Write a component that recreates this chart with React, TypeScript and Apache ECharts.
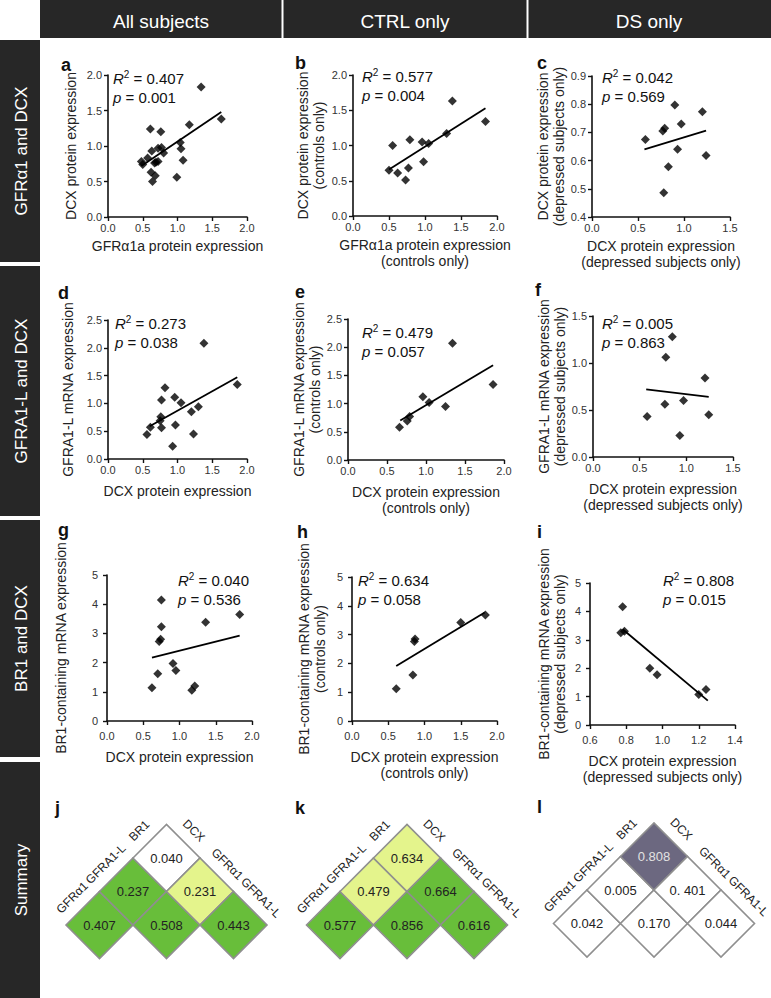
import React, { useEffect, useRef } from "react";
import * as echarts from "echarts";

const FONT = '"Liberation Sans", Arial, Helvetica, sans-serif';

// ---------- column / row headings ----------
const COLUMN_HEADS = ["All subjects", "CTRL only", "DS only"];
const ROW_HEADS = ["GFRα1 and DCX", "GFRA1-L and DCX", "BR1 and DCX", "Summary"];

// ---------- scatter data ----------
const A_PTS = [[1.34,1.83],[0.61,1.24],[0.76,1.20],[1.17,1.30],[1.63,1.38],[0.63,0.93],[0.72,0.97],[0.77,0.98],[0.80,0.90],[1.04,1.05],[1.05,0.96],[1.08,0.80],[0.57,0.83],[0.48,0.78],[0.50,0.74],[0.69,0.77],[0.72,0.78],[0.67,0.76],[0.62,0.63],[0.68,0.58],[0.64,0.50],[0.99,0.56]];
const A_FIT = [[0.48,0.72],[1.63,1.48]];
const B_PTS = [[0.50,0.65],[0.55,1.00],[0.62,0.61],[0.73,0.51],[0.77,0.68],[0.79,1.08],[0.96,1.05],[0.98,0.77],[1.05,1.03],[1.30,1.17],[1.38,1.63],[1.84,1.34]];
const B_FIT = [[0.50,0.66],[1.84,1.53]];
const C_PTS = [[0.58,0.675],[0.77,0.705],[0.79,0.715],[0.90,0.797],[0.97,0.730],[1.20,0.773],[0.93,0.640],[0.83,0.578],[1.24,0.618],[0.78,0.486]];
const C_FIT = [[0.57,0.64],[1.24,0.706]];
const D_PTS = [[1.38,2.08],[1.86,1.34],[0.82,1.28],[0.77,1.06],[0.96,1.11],[1.05,1.01],[1.30,0.94],[1.20,0.85],[0.76,0.76],[0.75,0.69],[0.61,0.57],[0.77,0.56],[0.97,0.61],[0.56,0.44],[1.23,0.45],[0.93,0.23]];
const D_FIT = [[0.60,0.59],[1.86,1.47]];
const E_PTS = [[0.66,0.58],[0.76,0.69],[0.79,0.77],[0.96,1.12],[1.04,1.02],[1.25,0.95],[1.34,2.07],[1.86,1.34]];
const E_FIT = [[0.67,0.70],[1.86,1.68]];
const F_PTS = [[0.85,1.28],[0.78,1.06],[1.20,0.84],[0.97,0.60],[0.77,0.56],[0.58,0.43],[1.24,0.45],[0.93,0.23]];
const F_FIT = [[0.57,0.72],[1.24,0.64]];
const G_PTS = [[0.75,4.14],[0.75,3.23],[0.74,2.80],[0.72,2.72],[1.36,3.38],[1.83,3.65],[0.91,1.97],[0.95,1.73],[0.70,1.62],[0.62,1.14],[1.17,1.05],[1.21,1.20]];
const G_FIT = [[0.62,2.17],[1.83,2.92]];
const H_PTS = [[0.61,1.12],[0.84,1.60],[0.86,2.76],[0.87,2.85],[1.50,3.42],[1.84,3.68]];
const H_FIT = [[0.61,1.91],[1.83,3.77]];
const I_PTS = [[0.78,4.16],[0.77,3.25],[0.79,3.30],[0.93,2.00],[0.97,1.77],[1.20,1.07],[1.24,1.25]];
const I_FIT = [[0.78,3.37],[1.25,0.86]];

// ---------- statistics ----------
const R2 = ["0.407", "0.577", "0.042", "0.273", "0.479", "0.005", "0.040", "0.634", "0.808"];
const PV = ["0.001", "0.004", "0.569", "0.038", "0.057", "0.863", "0.536", "0.058", "0.015"];

// ---------- axis titles ----------
const X_NAMES = [
  "GFRα1a protein expression",
  "GFRα1a protein expression\n(controls only)",
  "DCX protein expression\n(depressed subjects only)",
  "DCX protein expression",
  "DCX protein expression\n(controls only)",
  "DCX protein expression\n(depressed subjects only)",
  "DCX protein expression",
  "DCX protein expression\n(controls only)",
  "DCX protein expression\n(depressed subjects only)",
];
const Y_NAMES = [
  "DCX protein expression",
  "DCX protein expression\n(controls only)",
  "DCX protein expression\n(depressed subjects only)",
  "GFRA1-L mRNA expression",
  "GFRA1-L mRNA expression\n(controls only)",
  "GFRA1-L mRNA expression\n(depressed subjects only)",
  "BR1-containing mRNA expression",
  "BR1-containing mRNA expression\n(controls only)",
  "BR1-containing mRNA expression\n(depressed subjects only)",
];
// axis ranges [min, max, interval, decimals]
const X_RANGES = [[0,2,0.5,1],[0,2,0.5,1],[0,1.5,0.5,1],[0,2,0.5,1],[0,2,0.5,1],[0,1.5,0.5,1],[0,2,0.5,1],[0,2,0.5,1],[0.6,1.4,0.2,1]];
const Y_RANGES = [[0,2,0.5,1],[0,2,0.5,1],[0.4,0.9,0.1,1],[0,2.5,0.5,1],[0,2.5,0.5,1],[0,1.5,0.5,1],[0,5,1,0],[0,5,1,0],[0,5,1,0]];
const PANEL_PTS = [A_PTS, B_PTS, C_PTS, D_PTS, E_PTS, F_PTS, G_PTS, H_PTS, I_PTS];
const PANEL_FIT = [A_FIT, B_FIT, C_FIT, D_FIT, E_FIT, F_FIT, G_FIT, H_FIT, I_FIT];
const LETTERS = ["a", "b", "c", "d", "e", "f", "g", "h", "i"];

// ---------- summary heat maps ----------
const LEFT_LABELS = ["GFRα1", "GFRA1-L", "BR1"];
const RIGHT_LABELS = ["DCX", "GFRα1", "GFRA1-L"];
// cell pairs [leftIndex, rightIndex]
const PAIRS = [[0,0],[1,0],[2,0],[1,1],[2,1],[2,2]];
const HEAT_J = ["0.407", "0.237", "0.040", "0.508", "0.231", "0.443"];
const HEAT_K = ["0.577", "0.479", "0.634", "0.856", "0.664", "0.616"];
const HEAT_L = ["0.042", "0.005", "0.808", "0.170", "0. 401", "0.044"];
// significance class: 0 n.s., 1 trend, 2 significant positive, 3 significant negative
const SIG_J = [2, 2, 0, 2, 1, 2];
const SIG_K = [2, 1, 1, 2, 2, 2];
const SIG_L = [0, 0, 3, 0, 0, 0];
const HEAT_LETTERS = ["j", "k", "l"];

// ---------- layout (pixels) ----------
const GRIDS = [
  [108, 75, 139, 142], [353, 75, 144, 141], [592, 76, 138, 141],
  [108, 320, 139, 139], [348, 319, 156, 141], [593, 316, 140, 141],
  [107, 575, 145, 146], [352, 577, 145, 144], [590, 583, 145, 142],
];
const LETTER_POS = [[61, 65], [295, 63], [537, 63], [58, 293], [295, 292], [535, 290], [58, 530], [297, 532], [537, 532]];
const STAT_POS = [[113, 78], [362, 76], [602, 77], [115, 323], [362, 332], [602, 323], [178, 580], [358, 580], [663, 580]];
const Y_GAP = [29, 26, 24, 32, 24, 22, 38, 24, 22];
const X_GAP = [21, 21, 21, 24, 24, 24, 28, 28, 28];
const X_LABEL_MARGIN = [5, 5, 5, 5, 5, 5, 9, 9, 9];
const Y_LABEL_MARGIN = [6, 6, 6, 6, 6, 6, 9, 9, 9];
const HEAT_GRIDS = [[66, 824.5], [306.5, 824.5], [553.5, 823]];
const HEAT_LETTER_POS = [[55, 808], [295, 808], [537, 807]];
const SIG_COLORS = ["#ffffff", "#e4f48c", "#68be3a", "#6c6880"];

function buildOption() {
  const grid: any[] = [];
  const xAxis: any[] = [];
  const yAxis: any[] = [];
  const series: any[] = [];
  const graphic: any[] = [];

  const axisCommon = {
    type: "value",
    splitLine: { show: false },
    axisLine: { show: true, onZero: false, lineStyle: { color: "#111", width: 1.6 } },
    axisTick: { show: true, length: 4, lineStyle: { color: "#111", width: 1.4 } },
    nameLocation: "middle",
    nameTextStyle: { fontSize: 14, color: "#222", fontFamily: FONT, lineHeight: 16 },
  };

  for (let i = 0; i < 9; i++) {
    const [l, t, w, h] = GRIDS[i];
    grid.push({ left: l, top: t, width: w, height: h, containLabel: false });
    const xr = X_RANGES[i];
    const yr = Y_RANGES[i];
    xAxis.push({
      ...axisCommon,
      gridIndex: i,
      min: xr[0], max: xr[1], interval: xr[2],
      axisLabel: { fontSize: 11, color: "#333", fontFamily: FONT, margin: X_LABEL_MARGIN[i], formatter: (v: number) => v.toFixed(xr[3]) },
      name: X_NAMES[i],
      nameGap: X_GAP[i],
    });
    yAxis.push({
      ...axisCommon,
      gridIndex: i,
      min: yr[0], max: yr[1], interval: yr[2],
      axisLabel: { fontSize: 11, color: "#333", fontFamily: FONT, margin: Y_LABEL_MARGIN[i], formatter: (v: number) => v.toFixed(yr[3]) },
      name: Y_NAMES[i],
      nameRotate: 90,
      nameGap: Y_GAP[i],
    });
    series.push({
      type: "scatter",
      xAxisIndex: i, yAxisIndex: i,
      data: PANEL_PTS[i],
      symbol: "diamond",
      symbolSize: 9,
      itemStyle: { color: "#000" },
    });
    series.push({
      type: "line",
      xAxisIndex: i, yAxisIndex: i,
      data: PANEL_FIT[i],
      symbol: "none",
      lineStyle: { color: "#000", width: 1.8 },
    });
    graphic.push({
      type: "text", x: LETTER_POS[i][0], y: LETTER_POS[i][1],
      style: { text: LETTERS[i], font: `bold 18px ${FONT}`, fill: "#111", align: "left", verticalAlign: "middle" },
    });
    const [sx, sy] = STAT_POS[i];
    graphic.push({
      type: "text", x: sx, y: sy,
      style: {
        text: `{i|R}{s|2}{n| = ${R2[i]}}`,
        rich: {
          i: { fontStyle: "italic", fontSize: 15, fontFamily: FONT, fill: "#111", lineHeight: 18 },
          s: { fontSize: 10, fontFamily: FONT, fill: "#111", verticalAlign: "top", lineHeight: 18 },
          n: { fontSize: 15, fontFamily: FONT, fill: "#111", lineHeight: 18 },
        },
        align: "left", verticalAlign: "middle",
      },
    });
    graphic.push({
      type: "text", x: sx, y: sy + 19,
      style: {
        text: `{i|p}{n| = ${PV[i]}}`,
        rich: {
          i: { fontStyle: "italic", fontSize: 15, fontFamily: FONT, fill: "#111", lineHeight: 18 },
          n: { fontSize: 15, fontFamily: FONT, fill: "#111", lineHeight: 18 },
        },
        align: "left", verticalAlign: "middle",
      },
    });
  }

  // heat maps
  const heatVals = [HEAT_J, HEAT_K, HEAT_L];
  const heatSig = [SIG_J, SIG_K, SIG_L];
  for (let k = 0; k < 3; k++) {
    const gi = 9 + k;
    const [l, t] = HEAT_GRIDS[k];
    grid.push({ left: l, top: t, width: 201, height: 134 });
    xAxis.push({ type: "value", gridIndex: gi, min: 0, max: 6, show: false });
    yAxis.push({ type: "value", gridIndex: gi, min: 0, max: 4, show: false });
    const cells = PAIRS.map(([r, c], n) => [1 + r + c, 1 + r - c, heatVals[k][n], heatSig[k][n]]);
    series.push({
      type: "custom",
      coordinateSystem: "cartesian2d",
      xAxisIndex: gi, yAxisIndex: gi,
      data: cells,
      renderItem: (params: any, api: any) => {
        const cx = api.value(0), cy = api.value(1);
        const p = api.coord([cx, cy]);
        const s = api.size([1, 1]);
        const hx = s[0], hy = s[1];
        const sig = cells[params.dataIndex][3] as number;
        const txt = cells[params.dataIndex][2] as string;
        return {
          type: "group",
          children: [
            {
              type: "polygon",
              shape: { points: [[p[0] - hx, p[1]], [p[0], p[1] - hy], [p[0] + hx, p[1]], [p[0], p[1] + hy]] },
              style: { fill: SIG_COLORS[sig], stroke: "#8f8f8f", lineWidth: 1.6 },
            },
            {
              type: "text", x: p[0], y: p[1],
              style: { text: txt, fill: sig === 3 ? "#e2e2e2" : "#222", font: `13px ${FONT}`, align: "center", verticalAlign: "middle" },
            },
          ],
        };
      },
    });
    const labels: any[] = [];
    LEFT_LABELS.forEach((t2, r) => labels.push([0.5 + r, 1.5 + r, t2, 0]));
    RIGHT_LABELS.forEach((t2, c) => labels.push([3.5 + c, 3.5 - c, t2, 1]));
    series.push({
      type: "custom",
      coordinateSystem: "cartesian2d",
      xAxisIndex: gi, yAxisIndex: gi,
      data: labels,
      renderItem: (params: any, api: any) => {
        const item = labels[params.dataIndex];
        const p = api.coord([item[0], item[1]]);
        const d = 15 / Math.SQRT2;
        const right = item[3] === 1;
        return {
          type: "text",
          x: p[0] + (right ? d : -d),
          y: p[1] - d,
          rotation: right ? -Math.PI / 4 : Math.PI / 4,
          style: { text: item[2], fill: "#222", font: `12px ${FONT}`, align: "center", verticalAlign: "middle" },
        };
      },
    });
    graphic.push({
      type: "text", x: HEAT_LETTER_POS[k][0], y: HEAT_LETTER_POS[k][1],
      style: { text: HEAT_LETTERS[k], font: `bold 18px ${FONT}`, fill: "#111", align: "left", verticalAlign: "middle" },
    });
  }

  // header band
  graphic.push({ type: "rect", shape: { x: 40, y: 0, width: 731, height: 38 }, style: { fill: "#272727" }, z: -1 });
  graphic.push({ type: "line", shape: { x1: 282.5, y1: 0, x2: 282.5, y2: 38 }, style: { stroke: "#fff", lineWidth: 2 } });
  graphic.push({ type: "line", shape: { x1: 527.5, y1: 0, x2: 527.5, y2: 38 }, style: { stroke: "#fff", lineWidth: 2 } });
  const headCenters = [161, 405, 649];
  COLUMN_HEADS.forEach((t, n) => {
    graphic.push({
      type: "text", x: headCenters[n], y: 21,
      style: { text: t, fill: "#fff", font: `19px ${FONT}`, align: "center", verticalAlign: "middle" },
    });
  });
  // side band
  const sections = [[40, 262], [266, 516], [520, 757], [762, 998]];
  sections.forEach(([y0, y1], n) => {
    graphic.push({ type: "rect", shape: { x: 0, y: y0, width: 40, height: y1 - y0 }, style: { fill: "#272727" }, z: -1 });
    graphic.push({
      type: "text", x: 21, y: (y0 + y1) / 2, rotation: Math.PI / 2,
      style: { text: ROW_HEADS[n], fill: "#fff", font: `17px ${FONT}`, align: "center", verticalAlign: "middle" },
    });
  });

  return {
    animation: false,
    backgroundColor: "#fff",
    textStyle: { fontFamily: FONT },
    grid, xAxis, yAxis, series, graphic,
  };
}

export default function App() {
  const ref = useRef<HTMLDivElement>(null);
  useEffect(() => {
    document.body.style.margin = "0";
    const chart = echarts.init(ref.current!, null, { renderer: "svg" });
    chart.setOption(buildOption() as any);
    return () => chart.dispose();
  }, []);
  return <div ref={ref} style={{ width: 771, height: 998 }} />;
}
